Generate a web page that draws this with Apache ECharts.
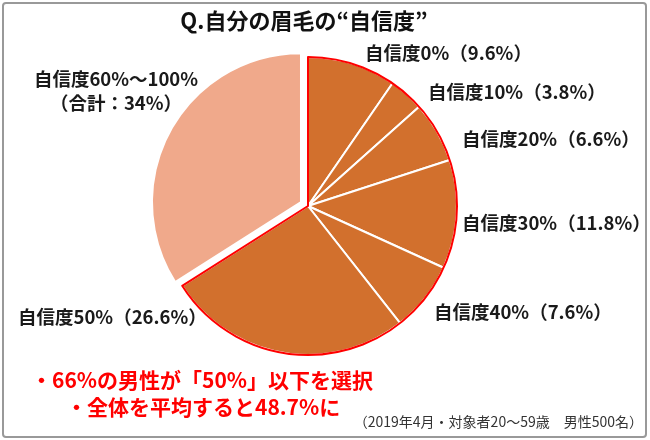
<!DOCTYPE html>
<html>
<head>
<meta charset="utf-8">
<script src="https://cdn.jsdelivr.net/npm/echarts@6/dist/echarts.min.js"></script>
<style>html,body{margin:0;padding:0;background:#fff}#c{width:650px;height:440px}</style>
</head>
<body>
<div id="c"></div>
<script>
var title = 'Q.自分の眉毛の“自信度”';
var categories = ['自信度0%', '自信度10%', '自信度20%', '自信度30%', '自信度40%', '自信度50%', '自信度60%～100%'];
var values = [9.6, 3.8, 6.6, 11.8, 7.6, 26.6, 34];
var notes = ['・66%の男性が「50%」以下を選択', '・全体を平均すると48.7%に'];
var footnote = '（2019年4月・対象者20～59歳　男性500名）';

var ORANGE = '#D2702D', LIGHT = '#F0A98B', RED = '#FF0000';
var FONT = '"Noto Sans CJK JP", "Noto Sans", sans-serif';
var CENTER = [308, 206], R = 149;
var labelPos = [
  {x: 365, y: 53, align: 'left'},
  {x: 428, y: 92, align: 'left'},
  {x: 462, y: 139, align: 'left'},
  {x: 462, y: 223, align: 'left'},
  {x: 434, y: 312, align: 'left'},
  {x: 18, y: 317, align: 'left'},
  {x: 116, y: 91, align: 'center'}
];
var lastIdx = categories.length - 1;
var pieData = categories.map(function (c, i) {
  var isLight = i === lastIdx;
  return {
    name: c, value: values[i], selected: isLight,
    itemStyle: {color: isLight ? LIGHT : ORANGE},
    label: {show: !isLight}
  };
});
var lowSum = 0;
for (var i = 0; i < lastIdx; i++) lowSum += values[i];
lowSum = Math.round(lowSum * 10) / 10;

var chart = echarts.init(document.getElementById('c'));
chart.setOption({
  animation: false,
  title: {
    text: title, left: 299, top: 5, textAlign: 'center',
    textStyle: {fontFamily: FONT, fontSize: 22, fontWeight: 'bold', color: '#111'}
  },
  graphic: [
    {type: 'rect', shape: {x: 3, y: 3, width: 643, height: 434, r: 3}, style: {fill: 'none', stroke: '#999', lineWidth: 2}, z: 100},
    {type: 'text', x: labelPos[lastIdx].x, y: labelPos[lastIdx].y, z: 10,
      style: {text: categories[lastIdx] + '\n（合計：' + values[lastIdx] + '%）', fill: '#1a1a1a',
        font: 'bold 18.5px ' + FONT, lineHeight: 24, align: 'center', verticalAlign: 'middle'}},
    {type: 'text', left: 31, top: 370, style: {text: notes[0], fill: RED, font: 'bold 21px ' + FONT}},
    {type: 'text', left: 66, top: 397, style: {text: notes[1], fill: RED, font: 'bold 21px ' + FONT}},
    {type: 'text', right: 7, top: 415, style: {text: footnote, fill: '#333', font: '14px ' + FONT}}
  ],
  series: [
    {
      type: 'pie', center: CENTER, radius: R, startAngle: 90, clockwise: true,
      selectedMode: 'single', selectedOffset: 8, silent: true,
      itemStyle: {borderColor: '#fff', borderWidth: 2},
      select: {itemStyle: {color: LIGHT, borderColor: '#fff', borderWidth: 2}},
      label: {
        show: true, fontFamily: FONT, fontSize: 18.5, fontWeight: 'bold', color: '#1a1a1a',
        overflow: 'none',
        formatter: '{b}（{c}%）'
      },
      labelLine: {show: false},
      labelLayout: function (p) {
        var lp = labelPos[p.dataIndex];
        return {x: lp.x, y: lp.y, align: lp.align, verticalAlign: 'middle'};
      },
      data: pieData
    },
    {
      type: 'pie', center: CENTER, radius: R, startAngle: 90, clockwise: true,
      silent: true, z: 5, label: {show: false}, labelLine: {show: false},
      data: [
        {value: lowSum, itemStyle: {color: 'rgba(0,0,0,0)', borderColor: RED, borderWidth: 2}},
        {value: values[lastIdx], itemStyle: {color: 'rgba(0,0,0,0)', borderWidth: 0}}
      ]
    }
  ]
});
</script>
</body>
</html>
